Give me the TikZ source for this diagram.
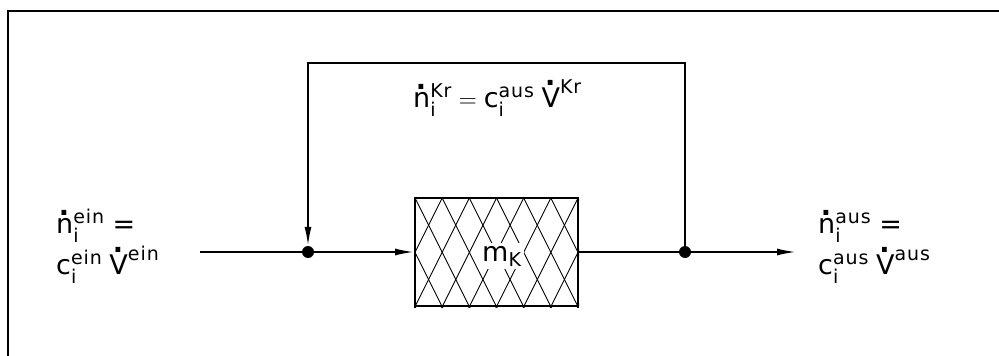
\documentclass[tikz,border=0pt]{standalone}
\usepackage{fontspec}
\usepackage{amsmath}
\setmainfont[LetterSpace=5]{DejaVu Sans}
\usetikzlibrary{arrows.meta}
\DeclareMathSizes{27}{27}{19}{14}
\newcommand\tx[1]{\text{#1}}
\newcommand\dt[2]{\ooalign{#2\cr\hidewidth\raisebox{#1}{\textbf{.}}\hidewidth\cr}}
\newcommand\ndot{\tx{\dt{0.64em}{n}}}
\newcommand\Vdot{\tx{\dt{0.78em}{V}}}
\begin{document}
\begin{tikzpicture}[x=1pt,y=-1pt,
  flow/.style={line width=1.8pt},
  arr/.style={-{Latex[length=19pt,width=7pt]}},
  junction/.style={circle,fill,inner sep=0pt,minimum size=12pt},
  vessel/.style={draw,line width=2pt,minimum width=163pt,minimum height=108pt,inner sep=0pt},
  hatch/.style={line width=0.9pt},
  lbl/.style={inner sep=0pt,anchor=base west,font=\fontsize{27}{31}\selectfont}]
\useasboundingbox (0,0) rectangle (999,356);
\fill[white] (0,0) rectangle (999,356);
\draw[line width=2.5pt] (8,356) |- (999,11);
% vessel
\node[vessel] (box) at (496.5,252) {};
\begin{scope}
  \clip (box.south west) rectangle (box.north east);
  \foreach \k in {-5,...,11} {
    \draw[hatch] ({415+27.17*\k},198) -- ++(60,120);
    \draw[hatch] ({415+27.17*\k},198) -- ++(-60,120);
  }
\end{scope}
\node[vessel] at (box) {};
\node[lbl,fill=white,inner sep=3pt] (m) at (479,261) {$\tx{m}_{\tx{K}}$};
% junctions
\node[junction] (j1) at (308,252) {};
\node[junction] (j2) at (685,252) {};
\coordinate (in) at (200,252);
\coordinate (out) at (796,252);
% flows
\draw[flow] (in) -- (j1);
\draw[flow,arr] (j1) -- (box.west);
\draw[flow] (box.east) -- (j2);
\draw[flow,arr] (j2) -- (out);
\draw[flow,arr] (j2) -- ++(0,-189) -| (j1);
% labels
\node[lbl] (nin) at (56,233) {$\ndot_{\tx{i}}^{\tx{ein}}$\hspace{8pt}=};
\node[lbl] (cin) at (56,274) {$\tx{c}_{\tx{i}}^{\tx{ein}}\hspace{7pt}\Vdot^{\tx{ein}}$};
\node[lbl] (nout) at (818,233) {$\ndot_{\tx{i}}^{\tx{aus}}$\hspace{8pt}=};
\node[lbl] (cout) at (818,274) {$\tx{c}_{\tx{i}}^{\tx{aus}}\hspace{7pt}\Vdot^{\tx{aus}}$};
\node[lbl] (kr) at (413,107) {$\ndot_{\tx{i}}^{\tx{Kr}} = \tx{c}_{\tx{i}}^{\tx{aus}}\hspace{7pt}\Vdot^{\tx{Kr}}$};
\end{tikzpicture}
\end{document}
